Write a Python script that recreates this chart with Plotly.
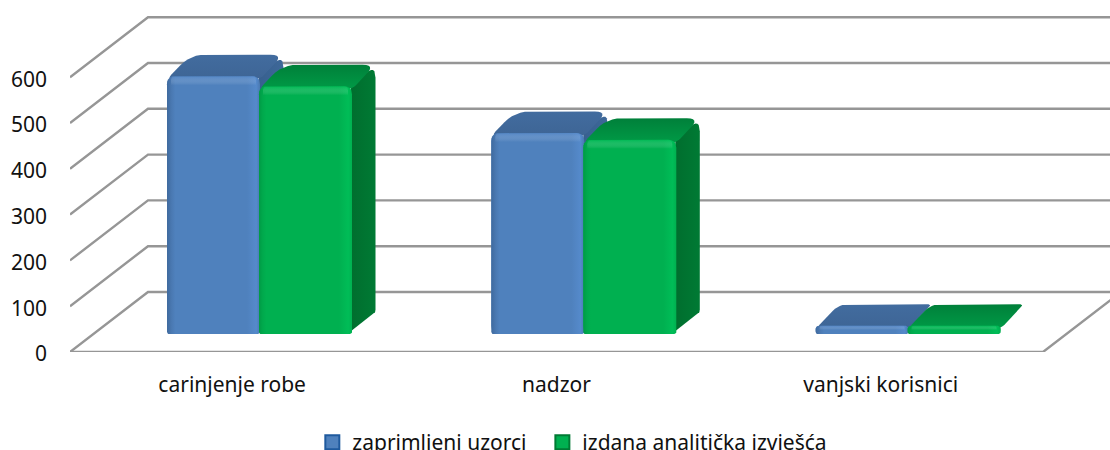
import plotly.graph_objects as go

CATEGORIES = ["carinjenje robe", "nadzor", "vanjski korisnici"]
SERIES_NAMES = ["zaprimljeni uzorci", "izdana analitička izvješća"]
UZORCI = [563, 439, 18]
IZVJESCA = [541, 424, 18]
Y_TICKS = [0, 100, 200, 300, 400, 500, 600]

# geometry of the pseudo-3D box, expressed in axis units
W, H, L, B = 1110, 450, 70, 98
PX_X = 324.3           # pixels per category
PX_Y = 0.458           # pixels per value unit
px = lambda n: n / PX_X
py = lambda n: n / PX_Y
WALL_DX, WALL_DY = px(78), py(60)
BAR_START, BAR_W, BAR_STEP = px(97), px(93), px(92)
BAR_BASE = py(18)
BAR_DX, BAR_DY = px(23.5), py(21.5)
GRID = "#969696"


def rounded(points, rpx):
    xs, ys = [], []
    n = len(points)
    for i in range(n):
        p0, p1, p2 = points[i - 1], points[i], points[(i + 1) % n]
        a = (p1[0] * PX_X, p1[1] * PX_Y)
        b = (p0[0] * PX_X, p0[1] * PX_Y)
        c = (p2[0] * PX_X, p2[1] * PX_Y)
        db = max(((b[0] - a[0]) ** 2 + (b[1] - a[1]) ** 2) ** 0.5, 1e-6)
        dc = max(((c[0] - a[0]) ** 2 + (c[1] - a[1]) ** 2) ** 0.5, 1e-6)
        r = rpx[i] if isinstance(rpx, (list, tuple)) else rpx
        r = min(r, db / 2, dc / 2)
        s = (a[0] + (b[0] - a[0]) * r / db, a[1] + (b[1] - a[1]) * r / db)
        e = (a[0] + (c[0] - a[0]) * r / dc, a[1] + (c[1] - a[1]) * r / dc)
        for k in range(7):
            t = k / 6
            xs.append(((1 - t) ** 2 * s[0] + 2 * t * (1 - t) * a[0] + t * t * e[0]) / PX_X)
            ys.append(((1 - t) ** 2 * s[1] + 2 * t * (1 - t) * a[1] + t * t * e[1]) / PX_Y)
    xs.append(xs[0])
    ys.append(ys[0])
    return xs, ys


def poly(pts, r, scale, kind, axes):
    xs, ys = rounded(pts, r)
    return go.Scatter(x=xs, y=ys, mode="lines", line=dict(width=0), fill="toself",
                      fillgradient=dict(type=kind, colorscale=scale),
                      hoverinfo="skip", showlegend=False, xaxis=axes[0], yaxis=axes[1])


fig = go.Figure()

# wall and floor lines
for v in Y_TICKS:
    fig.add_trace(go.Scatter(
        x=[0, WALL_DX, W / PX_X], y=[v, v + WALL_DY, v + WALL_DY], mode="lines",
        line=dict(color=GRID, width=2.4), hoverinfo="skip", showlegend=False))
fig.add_trace(go.Scatter(
    x=[0, px(973), px(973) + WALL_DX], y=[0, 0, WALL_DY], mode="lines",
    line=dict(color=GRID, width=2.4), hoverinfo="skip", showlegend=False))

STYLES = [
    dict(values=UZORCI, axes=("x2", "y2"), offset=0, front="#4F81BD",
         edge=[[0, "#3F6A9E"], [0.05, "#4A79B2"], [0.09, "#4F81BD"], [0.86, "#4F81BD"],
               [0.96, "#558ACB"], [1, "#4A79B2"]],
         bevel="rgba(88,140,208,0.45)", top=[[0, "#3E6595"], [1, "#426C9F"]],
         side=[[0, "#37608F"], [1, "#3E6899"]]),
    dict(values=IZVJESCA, axes=("x3", "y3"), offset=BAR_STEP, front="#00B050",
         edge=[[0, "#009A45"], [0.04, "#00A94C"], [0.08, "#00B050"], [0.86, "#00B050"],
               [0.96, "#00BD57"], [1, "#00B050"]],
         bevel="rgba(0,196,90,0.45)", top=[[0, "#009A46"], [1, "#00803A"]],
         side=[[0, "#006E2E"], [1, "#007A34"]]),
]

for name, st in zip(SERIES_NAMES, STYLES):
    xa, ya = st["axes"]
    starts = [i + BAR_START + st["offset"] for i in range(len(CATEGORIES))]
    fig.add_trace(go.Bar(
        x=[s + BAR_W / 2 for s in starts], y=st["values"], base=BAR_BASE, width=BAR_W, name=name,
        marker=dict(color=st["front"], line=dict(width=0), cornerradius=8),
        showlegend=False, xaxis=xa, yaxis=ya))
    for x0, v in zip(starts, st["values"]):
        x1 = x0 + BAR_W
        tv = BAR_BASE + v
        rf = min(8, v * PX_Y / 2)
        tall = v * PX_Y > 12
        # right side, only where the bar is tall enough to show one
        if tall:
            fig.add_trace(poly([(x1 - px(1), BAR_BASE + py(3)), (x1 + BAR_DX, BAR_BASE + BAR_DY),
                                (x1 + BAR_DX, tv + BAR_DY), (x1 - px(1), tv)],
                               [1, 3, 13, 1], st["side"], "horizontal", st["axes"]))
        # top face
        fig.add_trace(poly([(x0, tv - py(3)), (x1, tv - py(3)), (x1 + BAR_DX, tv + BAR_DY),
                            (x0 + BAR_DX, tv + BAR_DY)],
                           [6, 6, 13 if tall else 5, 15 if tall else 9], st["top"], "vertical", st["axes"]))
        # shaded front with rounded upper corners
        fig.add_trace(poly([(x0, BAR_BASE), (x1, BAR_BASE), (x1, tv), (x0, tv)],
                           [2, 2, rf, rf], st["edge"], "horizontal", st["axes"]))
        # soft bevel along the upper edge of the front
        hb = min(9, v * PX_Y / 2)
        fig.add_trace(poly([(x0 + px(4), tv - py(hb)), (x1 - px(4), tv - py(hb)),
                            (x1 - px(4), tv), (x0 + px(4), tv)],
                           [0, 0, min(5, hb / 2), min(5, hb / 2)],
                           [[0, "rgba(255,255,255,0)"], [1, st["bevel"]]],
                           "vertical", st["axes"]))

# legend entries, one legend box each so that both texts sit where the reference has them
for name, fill, border, lg in zip(SERIES_NAMES, ["#4F81BD", "#00B050"], ["#1F5A9E", "#007A34"],
                                  ["legend", "legend2"]):
    fig.add_trace(go.Scatter(
        x=[None], y=[None], mode="markers", name=name, legend=lg,
        marker=dict(symbol="square", size=14, color=fill, line=dict(color=border, width=2))))

FONT = "Noto Sans, sans-serif"
X_RANGE = [0, (W - L) / PX_X]
Y_RANGE = [0, (H - B) / PX_Y]
LEGEND_STYLE = dict(orientation="h", xanchor="left", xref="paper", yanchor="top", y=-0.199,
                    font=dict(size=21), bgcolor="rgba(0,0,0,0)", tracegroupgap=0)
fig.update_layout(
    width=W, height=H, autosize=False,
    margin=dict(l=L, r=0, t=0, b=B, pad=0, autoexpand=False),
    paper_bgcolor="white", plot_bgcolor="white",
    font=dict(family=FONT, size=21, color="#111111"),
    barmode="overlay", showlegend=True,
    xaxis=dict(range=X_RANGE, tickmode="array", tickvals=[0.5, 1.5, 2.5], ticktext=CATEGORIES,
               showgrid=False, zeroline=False, showline=False, ticks="", ticklabelstandoff=18,
               fixedrange=True),
    yaxis=dict(range=Y_RANGE, tickmode="array", tickvals=Y_TICKS,
               showgrid=False, zeroline=False, showline=False, ticks="", ticklabelstandoff=22,
               ticklabelshift=2, fixedrange=True),
    xaxis2=dict(overlaying="x", matches="x", visible=False),
    yaxis2=dict(overlaying="y", matches="y", visible=False),
    xaxis3=dict(overlaying="x", matches="x", visible=False),
    yaxis3=dict(overlaying="y", matches="y", visible=False),
    legend=dict(x=0.233, **LEGEND_STYLE),
    legend2=dict(x=0.4542, **LEGEND_STYLE),
)
fig.write_html("out.html", config={"displayModeBar": False},
               post_script="document.body.style.margin='0';document.documentElement.style.overflow='hidden';")
